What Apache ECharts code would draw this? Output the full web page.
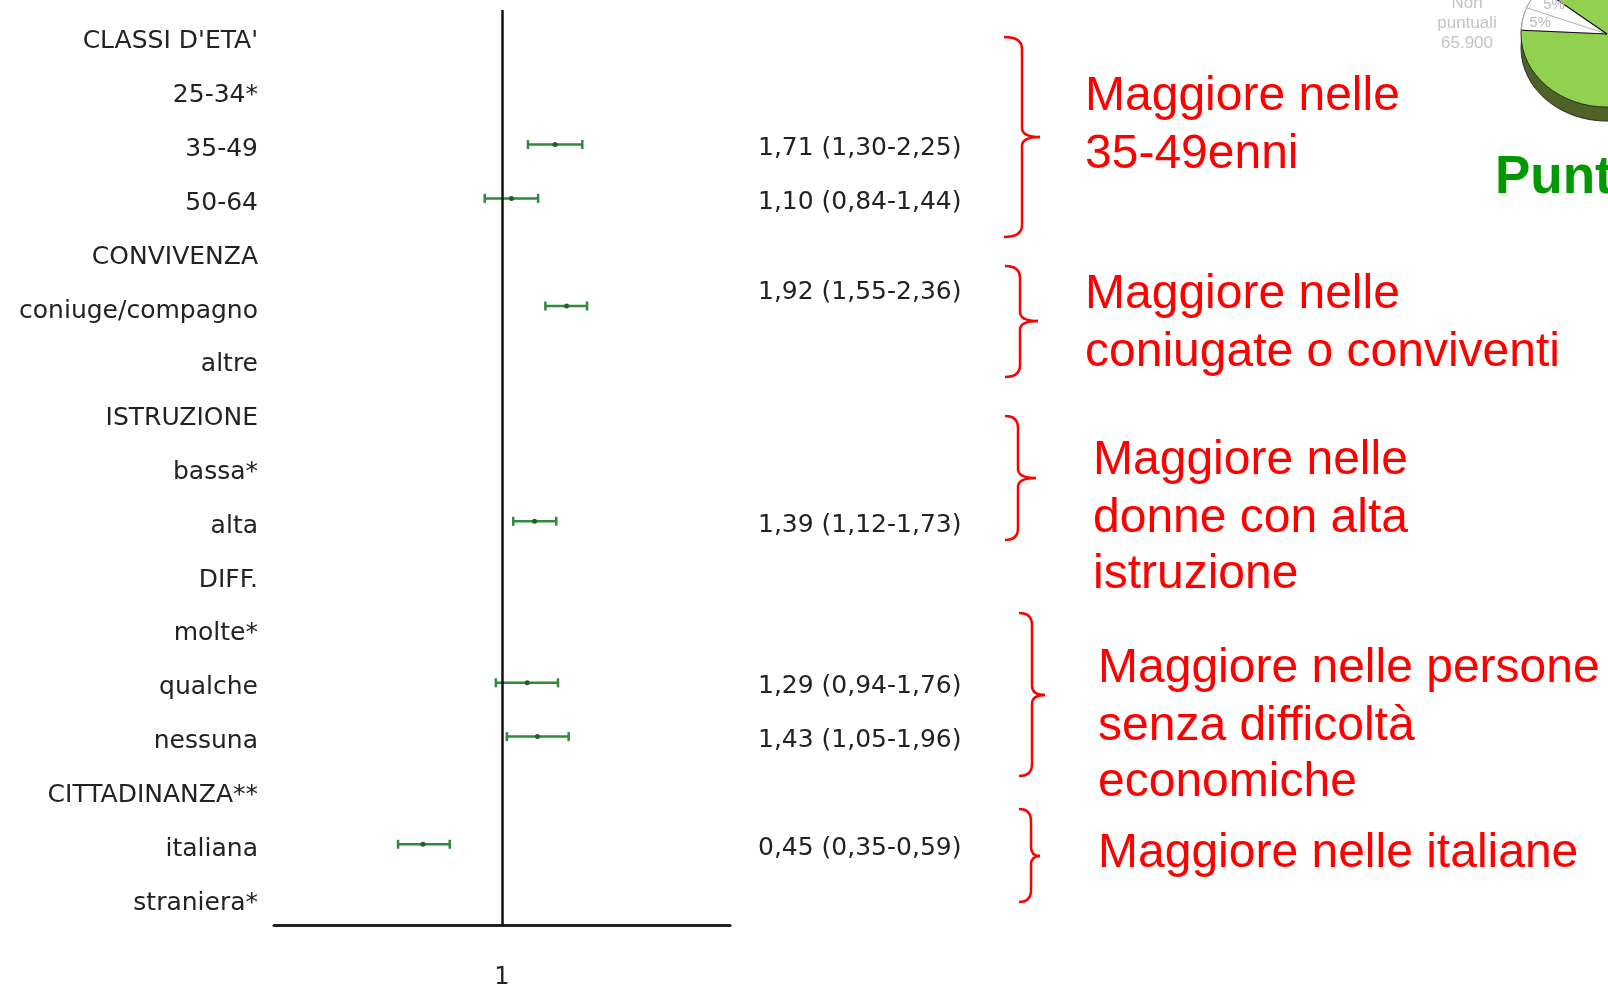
<!DOCTYPE html>
<html>
<head>
<meta charset="utf-8">
<script src="https://cdn.jsdelivr.net/npm/echarts@6/dist/echarts.min.js"></script>
<style>
html,body{margin:0;padding:0;background:#fff;}
#chart{width:1608px;height:985px;}
</style>
</head>
<body>
<div id="chart"></div>
<script>
// ---- data ----
const categories = ["CLASSI D'ETA'", "25-34*", "35-49", "50-64", "CONVIVENZA", "coniuge/compagno", "altre",
  "ISTRUZIONE", "bassa*", "alta", "DIFF.", "molte*", "qualche", "nessuna", "CITTADINANZA**", "italiana", "straniera*"];
const oddsRatio = [null, null, 1.71, 1.10, null, 1.92, null, null, null, 1.39, null, null, 1.29, 1.43, null, 0.45, null];
const ciLower   = [null, null, 1.30, 0.84, null, 1.55, null, null, null, 1.12, null, null, 0.94, 1.05, null, 0.35, null];
const ciUpper   = [null, null, 2.25, 1.44, null, 2.36, null, null, null, 1.73, null, null, 1.76, 1.96, null, 0.59, null];
const axisTickLabels = ["1"];

const notes = [
  ["Maggiore nelle", "35-49enni"],
  ["Maggiore nelle", "coniugate o conviventi"],
  ["Maggiore nelle", "donne con alta", "istruzione"],
  ["Maggiore nelle persone", "senza difficoltà", "economiche"],
  ["Maggiore nelle italiane"]
];

// ---- layout / style ----
const GREEN = '#2f8a3c';
const noteLayout = [
  {x: 1085, y: [97, 155]},
  {x: 1085, y: [295, 353]},
  {x: 1093, y: [461, 519, 575]},
  {x: 1098, y: [669, 727, 783]},
  {x: 1098, y: [854]}
];
const braceLayout = [
  [1004, 1022, 1040, 37, 137, 237],
  [1005, 1020, 1038, 266, 321, 377],
  [1005, 1018, 1036, 416, 478, 540],
  [1019, 1032, 1045, 613, 695, 776],
  [1019, 1031, 1040, 809, 856, 902]
];
const labelDy = {5: -14};

const fmt = v => v.toFixed(2).replace('.', ',');
const seriesData = [];
categories.forEach((c, i) => {
  if (oddsRatio[i] != null) seriesData.push([i, ciLower[i], ciUpper[i], oddsRatio[i]]);
});

function brace(x0, x1, x2, yTop, yMid, yBot) {
  const r = 12, r2 = 9;
  const st = {fill: null, stroke: '#ff0000', lineWidth: 2.5};
  const q = (ax, ay, cx, cy, bx, by) => ({type: 'bezierCurve', shape: {x1: ax, y1: ay, cpx1: cx, cpy1: cy, x2: bx, y2: by}, style: st});
  const l = (ax, ay, bx, by) => ({type: 'line', shape: {x1: ax, y1: ay, x2: bx, y2: by}, style: st});
  return {type: 'group', silent: true, children: [
    q(x0, yTop, x1, yTop, x1, yTop + r),
    l(x1, yTop + r, x1, yMid - r2),
    q(x1, yMid - r2, x1, yMid, x2, yMid),
    q(x2, yMid, x1, yMid, x1, yMid + r2),
    l(x1, yMid + r2, x1, yBot - r),
    q(x1, yBot - r, x1, yBot, x0, yBot)
  ]};
}

const graphics = [];
braceLayout.forEach(b => graphics.push(brace(...b)));
notes.forEach((lines, k) => {
  lines.forEach((t, j) => {
    graphics.push({type: 'text', x: noteLayout[k].x, y: noteLayout[k].y[j], silent: true,
      style: {text: t, fill: '#ff0000', fontSize: 48, fontFamily: 'Liberation Sans, Arial', verticalAlign: 'middle', align: 'left'}});
  });
});
// background slide fragment (top right)
const D = Math.PI / 180;
graphics.push({type: 'group', x: 1607, y: 48, scaleY: 0.85, silent: true, children: [
  {type: 'circle', shape: {cx: 0, cy: 0, r: 86}, style: {fill: '#4f6228', stroke: '#222', lineWidth: 1}}
]});
graphics.push({type: 'group', x: 1607, y: 34, scaleY: 0.85, silent: true, children: [
  {type: 'circle', shape: {cx: 0, cy: 0, r: 86}, style: {fill: '#92d050', stroke: '#222', lineWidth: 1}},
  {type: 'sector', shape: {cx: 0, cy: 0, r: 86, r0: 0, startAngle: 183 * D, endAngle: 219 * D, clockwise: true}, style: {fill: '#fff', stroke: '#aaa', lineWidth: 1}},
  {type: 'line', shape: {x1: 0, y1: 0, x2: 86 * Math.cos(201 * D), y2: 86 * Math.sin(201 * D)}, style: {stroke: '#aaa', lineWidth: 1}},
  {type: 'line', shape: {x1: 0, y1: 0, x2: 86 * Math.cos(183 * D), y2: 86 * Math.sin(183 * D)}, style: {stroke: '#111', lineWidth: 1.2}},
  {type: 'line', shape: {x1: 0, y1: 0, x2: 86 * Math.cos(219 * D), y2: 86 * Math.sin(219 * D)}, style: {stroke: '#111', lineWidth: 1.2}}
]});
[['5%', 1554, 5], ['5%', 1540, 23]].forEach(a => graphics.push({type: 'text', x: a[1], y: a[2], silent: true,
  style: {text: a[0], fill: '#bbbbbb', fontSize: 15, fontFamily: 'Liberation Sans, Arial', align: 'center', verticalAlign: 'middle'}}));
[['Non', 3], ['puntuali', 23], ['65.900', 43]].forEach(a => graphics.push({type: 'text', x: 1467, y: a[1], silent: true,
  style: {text: a[0], fill: '#c3c3c3', fontSize: 17, fontFamily: 'Liberation Sans, Arial', align: 'center', verticalAlign: 'middle'}}));
graphics.push({type: 'text', x: 1495, y: 178, silent: true,
  style: {text: 'Punt', fill: '#009a00', fontSize: 53, fontWeight: 'bold', fontFamily: 'Liberation Sans, Arial', verticalAlign: 'middle'}});

const chart = echarts.init(document.getElementById('chart'));
chart.setOption({
  backgroundColor: '#ffffff',
  animation: false,
  grid: [
    {left: 274, width: 456, top: 10, bottom: 60, containLabel: false, outerBoundsMode: 'none'},
    {left: 274, width: 456, top: 15, bottom: 55, containLabel: false, outerBoundsMode: 'none'}
  ],
  xAxis: [{
    type: 'log', logBase: 10, min: 0.1, max: 10, gridIndex: 0,
    axisLine: {show: true, lineStyle: {color: '#222', width: 3}},
    axisTick: {show: false},
    splitLine: {show: false},
    axisLabel: {
      margin: 41, fontSize: 24, color: '#222', fontFamily: 'DejaVu Sans',
      formatter: v => (Math.abs(v - 1) < 1e-6 ? axisTickLabels[0] : '')
    }
  }, {
    type: 'log', logBase: 10, min: 0.1, max: 10, gridIndex: 1, show: false
  }],
  yAxis: [{
    type: 'category', inverse: true, data: categories, gridIndex: 0,
    axisLine: {show: false}, axisTick: {show: false}, splitLine: {show: false}, axisLabel: {show: false}
  }, {
    type: 'category', inverse: true, data: categories, gridIndex: 1,
    axisLine: {show: false}, axisTick: {show: false}, splitLine: {show: false},
    axisLabel: {margin: 16, fontSize: 25, color: '#222', fontFamily: 'DejaVu Sans'}
  }],
  graphic: graphics,
  series: [{
    type: 'custom',
    clip: false,
    xAxisIndex: 0, yAxisIndex: 0,
    data: seriesData,
    encode: {y: 0, x: [1, 2, 3]},
    renderItem: function (params, api) {
      const cat = api.value(0);
      const lo = api.coord([api.value(1), cat]);
      const hi = api.coord([api.value(2), cat]);
      const mid = api.coord([api.value(3), cat]);
      const cs = params.coordSys;
      const h = 4.5;
      const dy = labelDy[cat] != null ? labelDy[cat] : 4;
      return {type: 'group', children: [
        {type: 'line', shape: {x1: lo[0], y1: lo[1], x2: hi[0], y2: hi[1]}, style: {stroke: GREEN, lineWidth: 2.5}},
        {type: 'line', shape: {x1: lo[0], y1: lo[1] - h, x2: lo[0], y2: lo[1] + h}, style: {stroke: GREEN, lineWidth: 2.5}},
        {type: 'line', shape: {x1: hi[0], y1: hi[1] - h, x2: hi[0], y2: hi[1] + h}, style: {stroke: GREEN, lineWidth: 2.5}},
        {type: 'circle', shape: {cx: mid[0], cy: mid[1], r: 2.5}, style: {fill: '#1f5f28'}},
        {type: 'text', x: cs.x + cs.width + 28, y: mid[1] + dy,
          style: {text: fmt(api.value(3)) + ' (' + fmt(api.value(1)) + '-' + fmt(api.value(2)) + ')',
            fill: '#222', fontSize: 25, fontFamily: 'DejaVu Sans', align: 'left', verticalAlign: 'middle'}}
      ]};
    },
    markLine: {
      silent: true, symbol: 'none', animation: false,
      label: {show: false},
      lineStyle: {color: '#111', width: 2.5, type: 'solid'},
      data: [{xAxis: 1}]
    }
  }]
});
</script>
</body>
</html>
